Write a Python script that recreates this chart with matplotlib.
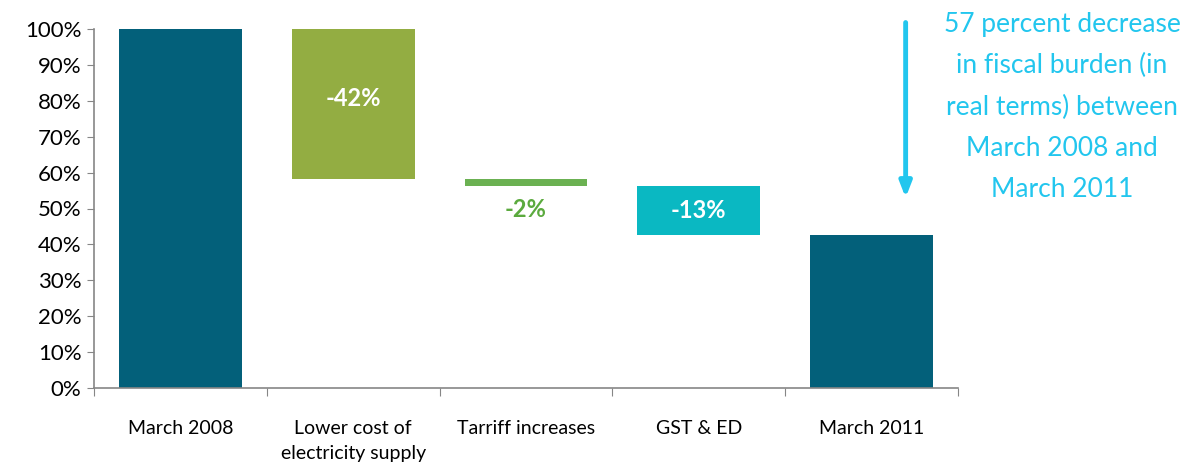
import matplotlib
matplotlib.use("Agg")
import matplotlib.pyplot as plt
import numpy as np

categories = ["March 2008", "Lower cost of\nelectricity supply", "Tarriff increases", "GST & ED", "March 2011"]
start_value = 100.0
changes = [-41.7, -2.0, -13.6]
end_value = 42.7
change_labels = ["-42%", "-2%", "-13%"]
yticks = list(range(0, 101, 10))
note_text = "57 percent decrease\nin fiscal burden (in\nreal terms) between\nMarch 2008 and\nMarch 2011"

c_total = "#03607A"
c_changes = ["#93AD42", "#6BB152", "#0AB8C2"]
c_note = "#22C6EE"
label_colors = ["white", "#5BAA3E", "white"]

plt.rcParams['font.family'] = ['Lato', 'DejaVu Sans']

fig = plt.figure(figsize=(11.88, 4.68), dpi=100)
ax = fig.add_axes([94/1188, 1-388/468, 864/1188, 359/468])

x = np.arange(len(categories))
w = 0.71
ax.bar(x[0], start_value, width=w, color=c_total)
level = start_value
for i, ch in enumerate(changes):
    top = level
    bottom = level + ch
    ax.bar(x[i+1], top - bottom, bottom=bottom, width=w, color=c_changes[i])
    if i == 1:
        ax.text(x[i+1], bottom - 6.5, change_labels[i], ha="center", va="center",
                color=label_colors[i], fontsize=17, fontweight="bold")
    else:
        ax.text(x[i+1], (top + bottom) / 2 + (1.5 if i == 0 else 0), change_labels[i], ha="center", va="center",
                color=label_colors[i], fontsize=17, fontweight="bold")
    level = bottom
ax.bar(x[-1], end_value, width=w, color=c_total)

ax.set_xlim(-0.5, len(categories) - 0.5)
ax.set_ylim(0, 100)
ax.set_yticks(yticks)
ax.set_yticklabels([f"{v}%" for v in yticks], fontsize=16)
ax.set_xticks(np.arange(-0.5, len(categories), 1.0))
ax.set_xticklabels([])
ax.set_xticks(x, minor=True)
ax.set_xticklabels(categories, minor=True, fontsize=14, va="top", linespacing=1.6)
ax.tick_params(axis="x", which="minor", length=0, pad=23)
ax.tick_params(axis="x", which="major", length=6, color="#868686", direction="out")
ax.tick_params(axis="y", length=5, color="#868686", direction="out", pad=4)
for s in ["top", "right"]:
    ax.spines[s].set_visible(False)
for s in ["left", "bottom"]:
    ax.spines[s].set_color("#868686")
    ax.spines[s].set_linewidth(1.2)

# Arrow and note
ax.annotate("", xy=(4.197, 53.0), xytext=(4.197, 101.8),
            arrowprops=dict(arrowstyle="-|>,head_width=0.35,head_length=0.9", color=c_note, lw=3.5,
                            shrinkA=0, shrinkB=0),
            annotation_clip=False)
fig.text(1062/1188, 1-107/468, note_text, ha="center", va="center", color=c_note,
         fontsize=19, linespacing=1.8)

fig.savefig("out.png", dpi=100)
